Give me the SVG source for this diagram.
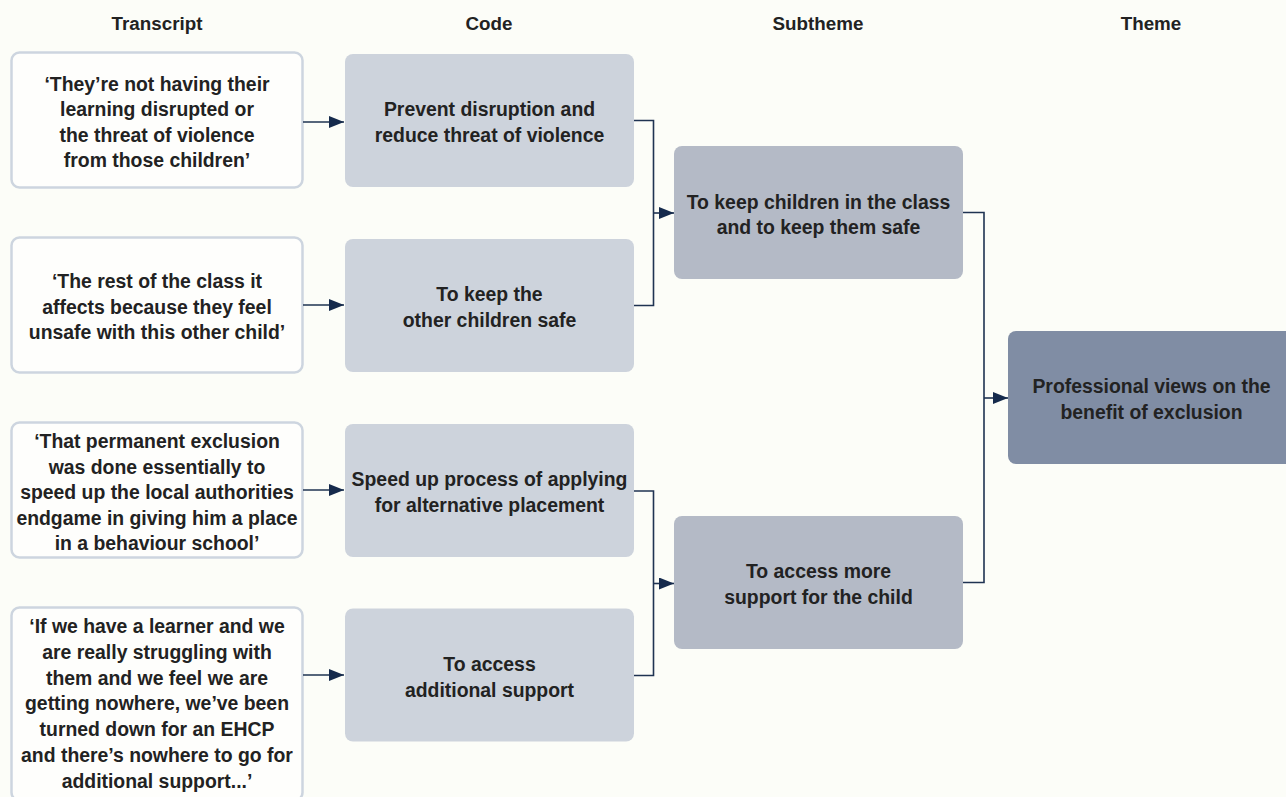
<svg xmlns="http://www.w3.org/2000/svg" width="1286" height="797" viewBox="0 0 1286 797">
<defs>
<style>
.bg{fill:#fcfdf8}
.tr{fill:#fefefc;stroke:#cdd5df;stroke-width:2.5}
.cd{fill:#cdd3dc}
.st{fill:#b4bac6}
.th{fill:#808da4}
text{font-family:"Liberation Sans",Arial,sans-serif;font-weight:bold;fill:#222222;text-anchor:middle}
.hd{font-size:18.8px}
.bd{font-size:19.4px}
.cn{fill:none;stroke:#1f3352;stroke-width:1.6}
</style>
<marker id="ah" markerUnits="userSpaceOnUse" markerWidth="15" markerHeight="12" refX="15" refY="6" orient="auto">
<path d="M0,0 L15,6 L0,12 z" fill="#152a4c"/>
</marker>
</defs>
<rect class="bg" x="0" y="0" width="1286" height="797"/>

<g id="headers">
<text class="hd" x="157" y="29.5">Transcript</text>
<text class="hd" x="489" y="29.5">Code</text>
<text class="hd" x="818" y="29.5">Subtheme</text>
<text class="hd" x="1151" y="29.5">Theme</text>
</g>

<g id="t1">
<rect class="tr" x="11.5" y="52.5" width="291" height="135" rx="8"/>
<text class="bd" x="157" y="90.5">‘They’re not having their</text>
<text class="bd" x="157" y="116">learning disrupted or</text>
<text class="bd" x="157" y="141.5">the threat of violence</text>
<text class="bd" x="157" y="167">from those children’</text>
</g>
<g id="t2">
<rect class="tr" x="11.5" y="237.5" width="291" height="135" rx="8"/>
<text class="bd" x="157" y="288">‘The rest of the class it</text>
<text class="bd" x="157" y="313.5">affects because they feel</text>
<text class="bd" x="157" y="339">unsafe with this other child’</text>
</g>
<g id="t3">
<rect class="tr" x="11.5" y="422.5" width="291" height="135" rx="8"/>
<text class="bd" x="157" y="448">‘That permanent exclusion</text>
<text class="bd" x="157" y="473.5">was done essentially to</text>
<text class="bd" x="157" y="499">speed up the local authorities</text>
<text class="bd" x="157" y="524.5">endgame in giving him a place</text>
<text class="bd" x="157" y="550">in a behaviour school’</text>
</g>
<g id="t4">
<rect class="tr" x="11.5" y="607.5" width="291" height="193" rx="8"/>
<text class="bd" x="157" y="633">‘If we have a learner and we</text>
<text class="bd" x="157" y="658.8">are really struggling with</text>
<text class="bd" x="157" y="684.6">them and we feel we are</text>
<text class="bd" x="157" y="710.4">getting nowhere, we’ve been</text>
<text class="bd" x="157" y="736.2">turned down for an EHCP</text>
<text class="bd" x="157" y="762">and there’s nowhere to go for</text>
<text class="bd" x="157" y="787.8">additional support...’</text>
</g>

<g id="c1">
<rect class="cd" x="345" y="54" width="289" height="133" rx="8"/>
<text class="bd" x="489.5" y="116">Prevent disruption and</text>
<text class="bd" x="489.5" y="142">reduce threat of violence</text>
</g>
<g id="c2">
<rect class="cd" x="345" y="239" width="289" height="133" rx="8"/>
<text class="bd" x="489.5" y="300.7">To keep the</text>
<text class="bd" x="489.5" y="326.7">other children safe</text>
</g>
<g id="c3">
<rect class="cd" x="345" y="424" width="289" height="133" rx="8"/>
<text class="bd" x="489.5" y="486">Speed up process of applying</text>
<text class="bd" x="489.5" y="512">for alternative placement</text>
</g>
<g id="c4">
<rect class="cd" x="345" y="608.5" width="289" height="133" rx="8"/>
<text class="bd" x="489.5" y="671">To access</text>
<text class="bd" x="489.5" y="696.5">additional support</text>
</g>

<g id="s1">
<rect class="st" x="674" y="146" width="289" height="133" rx="8"/>
<text class="bd" x="818.5" y="208.5">To keep children in the class</text>
<text class="bd" x="818.5" y="234">and to keep them safe</text>
</g>
<g id="s2">
<rect class="st" x="674" y="516" width="289" height="133" rx="8"/>
<text class="bd" x="818.5" y="578">To access more</text>
<text class="bd" x="818.5" y="604">support for the child</text>
</g>

<g id="theme">
<rect class="th" x="1008" y="331" width="290" height="133" rx="8"/>
<text class="bd" x="1151.5" y="393">Professional views on the</text>
<text class="bd" x="1151.5" y="418.5">benefit of exclusion</text>
</g>

<g id="connectors">
<line class="cn" x1="303" y1="122" x2="344" y2="122" marker-end="url(#ah)"/>
<line class="cn" x1="303" y1="305" x2="344" y2="305" marker-end="url(#ah)"/>
<line class="cn" x1="303" y1="490" x2="344" y2="490" marker-end="url(#ah)"/>
<line class="cn" x1="303" y1="675" x2="344" y2="675" marker-end="url(#ah)"/>
<path class="cn" d="M634,120.5 H653.5 V305.5 H634"/>
<line class="cn" x1="653.5" y1="213" x2="674" y2="213" marker-end="url(#ah)"/>
<path class="cn" d="M634,491 H653.5 V675.5 H634"/>
<line class="cn" x1="653.5" y1="583.5" x2="674" y2="583.5" marker-end="url(#ah)"/>
<path class="cn" d="M963,212.5 H984 V582.5 H963"/>
<line class="cn" x1="984" y1="398" x2="1008" y2="398" marker-end="url(#ah)"/>
</g>
</svg>
